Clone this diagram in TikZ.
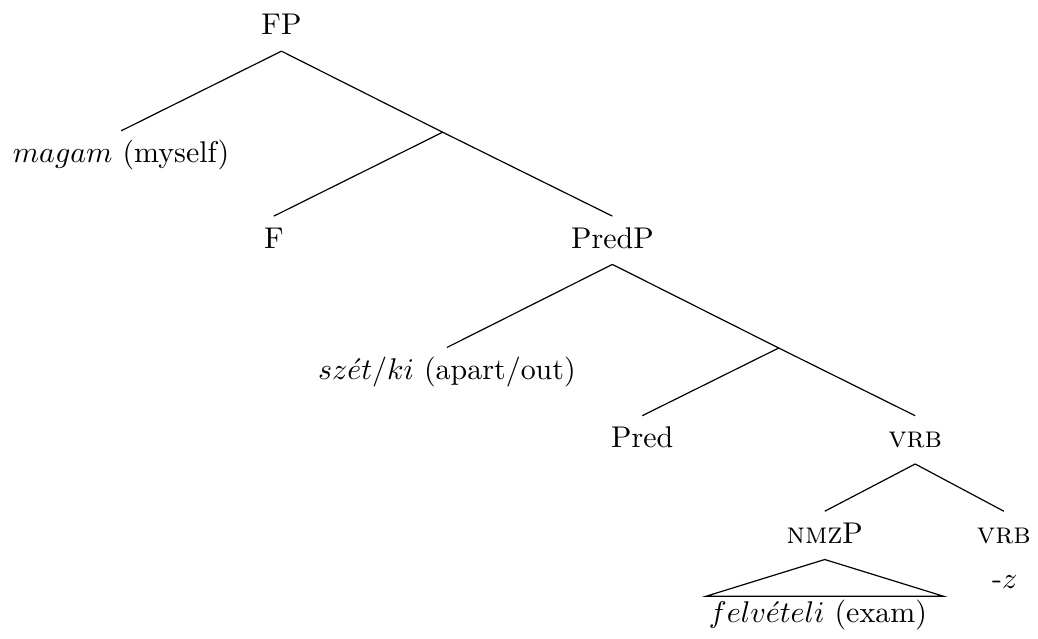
\documentclass[tikz,border=0pt]{standalone}
\usepackage{amsmath}
\usepackage{amssymb}
\usetikzlibrary{positioning}

\begin{document}
\begin{tikzpicture}[
    cat/.style={anchor=base, inner sep=3pt, text height=7.5pt, text depth=2.2pt},
    leaf/.style={anchor=base, inner sep=0pt}
]
    \useasboundingbox (0,0) rectangle (12.17,-7.49);

    % Top level
    \node[cat] (fp) at (3.30,-0.41) {FP};
    \node[cat] (magam) at (1.42,-1.91) {$magam$ (myself)};
    \coordinate (fbar) at (5.19,-1.55);

    % F and its complement
    \node[cat] (f) at (3.21,-2.91) {F};
    \node[cat] (predp) at (7.18,-2.91) {PredP};

    % Middle level
    \node[cat] (szetki) at (5.24,-4.45) {$sz\acute{e}t/ki$ (apart/out)};
    \coordinate (predbar) at (9.13,-4.08);
    \node[cat] (pred) at (7.53,-5.25) {Pred};
    \node[cat] (vrb) at (10.73,-5.25) {\textsc{vrb}};

    % Bottom level
    \node[cat] (nmzp) at (9.67,-6.37) {\textsc{nmz}P};
    \node[cat] (vrbz) at (11.77,-6.37) {\textsc{vrb}};
    \node[leaf] (suffix) at (11.78,-6.90) {-$z$};
    \node[leaf] (exam) at (9.59,-7.30) {$felv\acute{e}teli$ (exam)};
    \coordinate (roofl) at (8.28,-6.99);
    \coordinate (roofr) at (11.06,-6.99);

    % Branches
    \draw (fp.south) -- (magam.north);
    \draw (fp.south) -- (fbar) -- (predp.north);
    \draw (fbar) -- (f.north);
    \draw (predp.south) -- (szetki.north);
    \draw (predp.south) -- (predbar) -- (vrb.north);
    \draw (predbar) -- (pred.north);
    \draw (vrb.south) -- (nmzp.north);
    \draw (vrb.south) -- (vrbz.north);

    % Roof over the nominal phrase
    \draw (nmzp.south) -- (roofl) -- (roofr) -- cycle;
\end{tikzpicture}
\end{document}
